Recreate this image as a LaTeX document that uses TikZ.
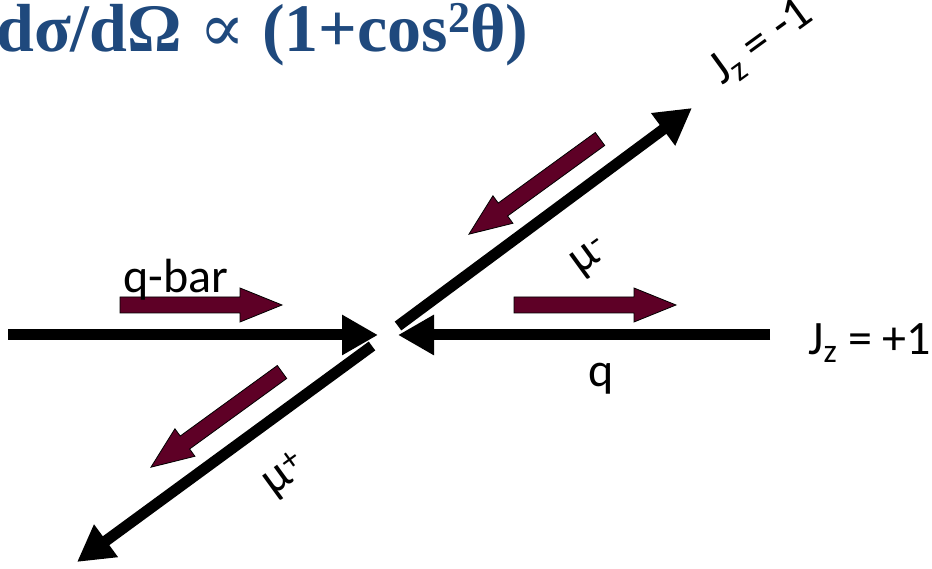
\documentclass[tikz,border=0pt]{standalone}
\usepackage{fontspec}
\setmainfont{Carlito}
\newfontfamily\titlefont{Liberation Serif}
\newfontfamily\symbfont{DejaVu Serif}
\usetikzlibrary{arrows.meta,positioning}
\definecolor{titleblue}{RGB}{31,73,125}
\definecolor{spinred}{RGB}{94,0,38}

\tikzset{
  track/.style={line width=11pt,-{Triangle[length=36pt,width=38pt]}},
  spinarrow/.style={fill=spinred,draw=black,line width=0.8pt,line join=miter},
  lbl/.style={font=\fontsize{48}{54}\selectfont,inner sep=0pt},
}

\begin{document}
\begin{tikzpicture}[x=1pt,y=1pt]
    \useasboundingbox (0,0) rectangle (932,569);

    % Title
    \node[font=\titlefont\bfseries\fontsize{68}{74}\selectfont,text=titleblue,
      anchor=base west,inner sep=0pt] (title) at (-4,517)
      {dσ/dΩ {\symbfont\mdseries ∝} (1+cos\raisebox{19pt}{\fontsize{44}{44}\selectfont 2}θ)};

    % Incoming quarks
    \coordinate (qbarstart) at (8,234);
    \coordinate (vertexL) at (378,234);
    \coordinate (qstart) at (770,234);
    \coordinate (vertexR) at (398,234);
    \draw[track] (qbarstart) -- (vertexL);
    \draw[track] (qstart) -- (vertexR);

    % Outgoing muons
    \coordinate (muminusstart) at (398,243);
    \coordinate (muminusend) at (692,461);
    \coordinate (muplusstart) at (372,223);
    \coordinate (muplusend) at (77,7);
    \draw[track] (muminusstart) -- (muminusend);
    \draw[track] (muplusstart) -- (muplusend);

    % Spin arrows
    \foreach \x/\y/\a in {120/264/0, 514/264/0, 600/430/216, 282/197/216}
      \draw[spinarrow,shift={(\x,\y)},rotate=\a]
        (0,-8) -- (120,-8) -- (120,-17) -- (162,0) -- (120,17) -- (120,8) -- (0,8) -- cycle;

    % Labels
    \node[lbl,anchor=base west] (qbarlabel) at (123,276) {q-bar};
    \node[lbl,anchor=base] (qlabel) at (601,182) {q};
    \node[lbl,anchor=base west] (jzplus) at (808,214) {J\textsubscript{z} = +1};
    \node[lbl,rotate=36] (jzminus) at (762,526) {J\textsubscript{z} = -1};
    \node[lbl,rotate=36] (muminus) at (591,311) {μ\textsuperscript{-}};
    \node[lbl,rotate=36] (muplus) at (285,93) {μ\textsuperscript{+}};
  \end{tikzpicture}
\end{document}
